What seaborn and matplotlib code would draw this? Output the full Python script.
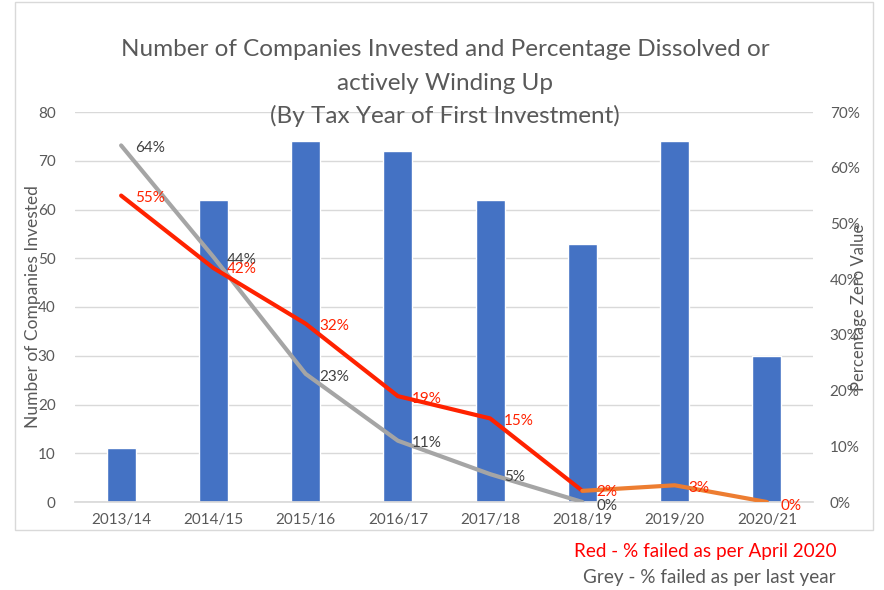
import pandas as pd
import numpy as np
import matplotlib.pyplot as plt
import matplotlib.patches as mpatches
from matplotlib.ticker import PercentFormatter
import seaborn as sns

sns.set_theme(style="white")
plt.rcParams['font.family'] = ['Lato', 'DejaVu Sans']

years = ["2013/14", "2014/15", "2015/16", "2016/17", "2017/18", "2018/19", "2019/20", "2020/21"]
companies = [11, 62, 74, 72, 62, 53, 74, 30]
red_pct = [0.55, 0.42, 0.32, 0.19, 0.15, 0.02]
orange_pct = [0.02, 0.03, 0.00]
grey_pct = [0.64, 0.44, 0.23, 0.11, 0.05, 0.00]

text_col = "#595959"
grid_col = "#D9D9D9"
lbl_size = 11

fig = plt.figure(figsize=(8.84, 5.9), dpi=100)
ax = fig.add_axes([75 / 884, 1 - 502 / 590, 738 / 884, 390 / 590])

df = pd.DataFrame({"year": years, "companies": companies})
sns.barplot(data=df, x="year", y="companies", color="#4472C4", width=0.315,
            saturation=1, ax=ax, zorder=2)
ax.set_ylim(0, 80)
ax.set_yticks(range(0, 81, 10))
ax.set_xlim(-0.5, len(years) - 0.5)
ax.grid(axis="y", color=grid_col, lw=1, zorder=0)
ax.set_axisbelow(True)
for s in ["top", "right", "left"]:
    ax.spines[s].set_visible(False)
ax.spines["bottom"].set_color(grid_col)
ax.tick_params(axis="both", length=0, colors=text_col, labelsize=lbl_size)
ax.tick_params(axis="y", pad=14)
ax.tick_params(axis="x", pad=8)
ax.set_xlabel("")
ax.set_ylabel("Number of Companies Invested", color=text_col, fontsize=12.5)
ax.yaxis.set_label_coords(-0.046, 0.5)

ax2 = ax.twinx()
idx = np.arange(len(years))
sns.lineplot(x=idx[:len(grey_pct)], y=grey_pct, color="#A5A5A5", lw=3, ax=ax2)
sns.lineplot(x=idx[:len(red_pct)], y=red_pct, color="#FF2200", lw=3, ax=ax2)
sns.lineplot(x=idx[5:5 + len(orange_pct)], y=orange_pct, color="#ED7D31", lw=3, ax=ax2)
ax2.set_ylim(0, 0.7)
ax2.set_yticks(np.arange(0, 0.71, 0.1))
ax2.yaxis.set_major_formatter(PercentFormatter(1.0, decimals=0))
for s in ["top", "right", "left", "bottom"]:
    ax2.spines[s].set_visible(False)
ax2.tick_params(axis="y", length=0, colors=text_col, labelsize=lbl_size, pad=12)
ax2.set_ylabel("Percentage Zero Value", color=text_col, fontsize=12)
ax2.yaxis.set_label_coords(1.052, 0.5)

for i, v in enumerate(grey_pct):
    dy = -3 if i == 5 else -2
    ax2.annotate(f"{v:.0%}", (i, v), xytext=(10, dy), textcoords="offset points",
                 ha="left", va="center", color="#404040", fontsize=lbl_size)
for i, v in enumerate(red_pct):
    dy = -1 if i in (1, 5) else -2
    ax2.annotate(f"{v:.0%}", (i, v), xytext=(10, dy), textcoords="offset points",
                 ha="left", va="center", color="#FF2200", fontsize=lbl_size)
for j, v in enumerate(orange_pct[1:], start=6):
    dy = -3 if v == 0 else -2
    ax2.annotate(f"{v:.0%}", (j, v), xytext=(10, dy), textcoords="offset points",
                 ha="left", va="center", color="#FF2200", fontsize=lbl_size)

fig.text(445 / 884, 1 - 50 / 590, "Number of Companies Invested and Percentage Dissolved or",
         ha="center", va="center", color=text_col, fontsize=17.5)
fig.text(445 / 884, 1 - 83 / 590, "actively Winding Up",
         ha="center", va="center", color=text_col, fontsize=17.5)
fig.text(445 / 884, 1 - 116 / 590, "(By Tax Year of First Investment)",
         ha="center", va="center", color=text_col, fontsize=17.5)

fig.text(836 / 884, 1 - 551 / 590, "Red - % failed as per April 2020",
         ha="right", va="center", color="#FF0000", fontsize=13.6)
fig.text(836 / 884, 1 - 577 / 590, "Grey - % failed as per last year",
         ha="right", va="center", color=text_col, fontsize=13.6)

fig.patches.append(mpatches.Rectangle((15 / 884, 1 - 530 / 590), 858 / 884, 528 / 590,
                                      transform=fig.transFigure, fill=False,
                                      edgecolor=grid_col, lw=1))

fig.savefig("out.png", dpi=100)
